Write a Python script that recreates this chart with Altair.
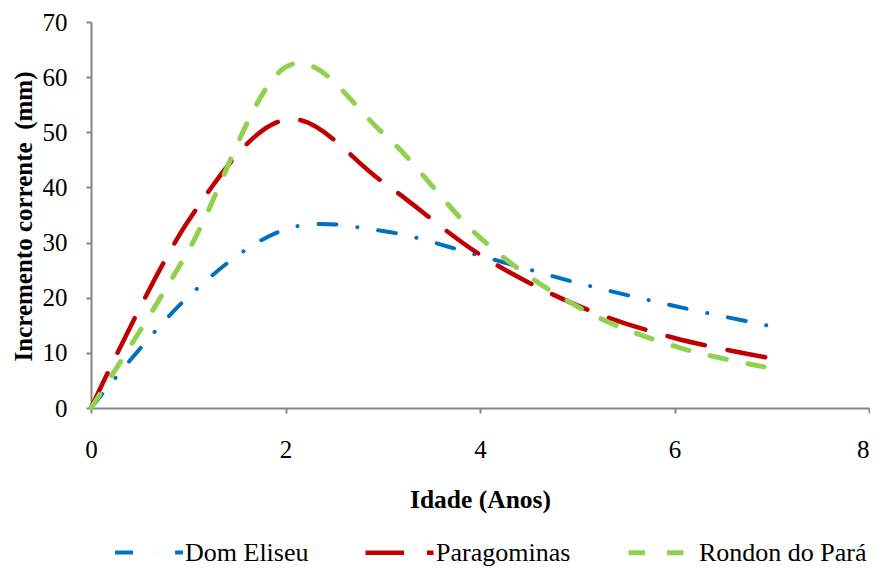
import altair as alt
import pandas as pd

ages = [0, 1, 2, 3, 4, 5, 6, 7]
series_names = ["Dom Eliseu", "Paragominas", "Rondon do Pará"]
dom_eliseu = [0, 20.2, 32.4, 32.1, 27.6, 22.7, 18.5, 14.8]
paragominas = [0, 33.9, 52.3, 41.0, 27.8, 18.6, 12.7, 9.0]
rondon = [0, 28.5, 61.8, 49.9, 30.9, 18.4, 11.2, 7.2]

x_ticks = [0, 2, 4, 6, 8]
y_ticks = [0, 10, 20, 30, 40, 50, 60, 70]

colors = ["#0070C0", "#C00000", "#92D050"]
dashes = [[18, 21, 0.1, 21], [38.5, 23], [16.5, 22]]
widths = [4, 5, 4.5]

rows = []
for name, vals in zip(series_names, [dom_eliseu, paragominas, rondon]):
    for a, v in zip(ages, vals):
        rows.append({"Idade": a, "Incremento": v, "Local": name})
df = pd.DataFrame(rows)

FONT = "Liberation Serif"

def make_legend():
    return alt.Legend(title=None, orient="none", direction="horizontal",
                      legendX=22, legendY=494,
                      symbolType="stroke", symbolSize=4624,
                      symbolStrokeWidth=4.5, labelOffset=0,
                      columnPadding=47, padding=0,
                      labelFont=FONT, labelFontSize=26,
                      labelColor="black", labelLimit=400)

chart = alt.Chart(df).mark_line(
    interpolate="cardinal", tension=0, strokeCap="round", strokeJoin="round"
).encode(
    x=alt.X("Idade:Q",
            scale=alt.Scale(domain=[0, 8], nice=False, zero=False),
            axis=alt.Axis(values=x_ticks, title="Idade (Anos)", format="d",
                          labelFlush=False,
                          labelAlign=alt.condition("datum.value == 8",
                                                   alt.value("right"),
                                                   alt.value("center")),
                          labelBaseline="alphabetic", labelPadding=44,
                          titleX=389, titleY=99, titleBaseline="alphabetic",
                          titleAlign="center")),
    y=alt.Y("Incremento:Q",
            scale=alt.Scale(domain=[0, 70], nice=False),
            axis=alt.Axis(values=y_ticks, title="Incremento corrente\u00a0 (mm)",
                          format="d", labelPadding=19, titleFontSize=25,
                          titleX=-68, titleY=194, titleAngle=270,
                          titleAlign="center", titleBaseline="middle")),
    color=alt.Color("Local:N",
                    scale=alt.Scale(domain=series_names, range=colors),
                    legend=make_legend()),
    strokeDash=alt.StrokeDash("Local:N",
                              scale=alt.Scale(domain=series_names, range=dashes),
                              legend=make_legend()),
    strokeWidth=alt.StrokeWidth("Local:N",
                                scale=alt.Scale(domain=series_names, range=widths),
                                legend=None),
).properties(
    width=778, height=386,
    autosize=alt.AutoSizeParams(type="none"),
    padding={"left": 83, "top": 14, "right": 1, "bottom": 158},
).configure(
    font=FONT
).configure_view(
    stroke=None
).configure_axis(
    grid=False,
    domainColor="#868686", tickColor="#868686",
    domainWidth=2, tickWidth=2, tickSize=5,
    labelFont=FONT, labelFontSize=25, labelColor="black",
    titleFont=FONT, titleFontSize=25.5, titleFontWeight="bold", titleColor="black",
).configure_legend(
    labelFont=FONT, labelFontSize=26, labelColor="black", labelLimit=400,
    symbolType="stroke", symbolSize=4624, symbolStrokeWidth=4.5,
    labelOffset=0, columnPadding=47, padding=0,
)

chart.save("out.html", embed_options={"renderer": "svg", "actions": False})
